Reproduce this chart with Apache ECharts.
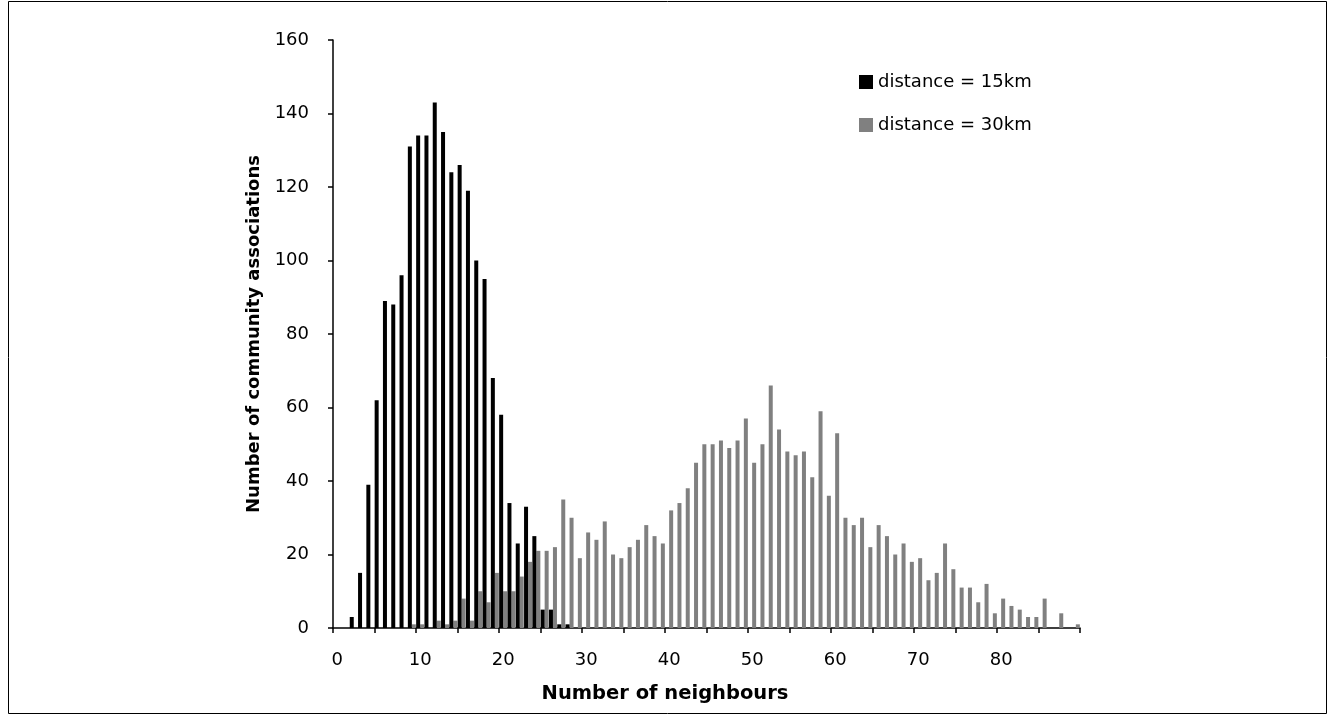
<!DOCTYPE html>
<html>
<head>
<meta charset="utf-8">
<script src="https://cdn.jsdelivr.net/npm/echarts@6.0.0/dist/echarts.min.js"></script>
<style>
  html, body { margin: 0; padding: 0; background: #fff; }
  #chart { width: 1330px; height: 719px; }
</style>
</head>
<body>
<div id="chart"></div>
<script>
// Number of neighbours (categories 0..89)
var neighbours = [
  0,1,2,3,4,5,6,7,8,9,10,11,12,13,14,15,16,17,18,19,
  20,21,22,23,24,25,26,27,28,29,30,31,32,33,34,35,36,37,38,39,
  40,41,42,43,44,45,46,47,48,49,50,51,52,53,54,55,56,57,58,59,
  60,61,62,63,64,65,66,67,68,69,70,71,72,73,74,75,76,77,78,79,
  80,81,82,83,84,85,86,87,88,89
];
// distance = 15km
var dist15 = [
  0,0,3,15,39,62,89,88,96,131,134,134,143,135,124,126,119,100,95,68,
  58,34,23,33,25,5,5,1,1,0,0,0,0,0,0,0,0,0,0,0,
  0,0,0,0,0,0,0,0,0,0,0,0,0,0,0,0,0,0,0,0,
  0,0,0,0,0,0,0,0,0,0,0,0,0,0,0,0,0,0,0,0,
  0,0,0,0,0,0,0,0,0,0
];
// distance = 30km
var dist30 = [
  0,0,0,0,0,0,0,0,0,1,1,0,2,1,2,8,2,10,7,15,
  10,10,14,18,21,21,22,35,30,19,26,24,29,20,19,22,24,28,25,23,
  32,34,38,45,50,50,51,49,51,57,45,50,66,54,48,47,48,41,59,36,
  53,30,28,30,22,28,25,20,23,18,19,13,15,23,16,11,11,7,12,4,
  8,6,5,3,3,8,0,4,0,1
];
var seriesNames = ['distance = 15km', 'distance = 30km'];
var yTicks = { min: 0, max: 160, interval: 20 };

var FONT = 'DejaVu Sans';
var chart = echarts.init(document.getElementById('chart'), null, { renderer: 'canvas' });
chart.setOption({
  animation: false,
  backgroundColor: '#ffffff',
  graphic: [{
    type: 'rect',
    shape: { x: 8.5, y: 1.5, width: 1318, height: 712 },
    style: { fill: 'none', stroke: '#000', lineWidth: 1 },
    silent: true
  }],
  grid: { left: 333, right: 250, top: 40, bottom: 91, containLabel: false },
  legend: {
    data: seriesNames,
    orient: 'vertical',
    left: 854,
    top: 68,
    itemWidth: 14,
    itemHeight: 14,
    itemGap: 25,
    icon: 'rect',
    textStyle: { fontFamily: FONT, fontSize: 18, color: '#000' }
  },
  xAxis: {
    type: 'category',
    data: neighbours,
    boundaryGap: true,
    name: 'Number of neighbours',
    nameLocation: 'middle',
    nameGap: 56,
    nameTextStyle: { fontFamily: FONT, fontSize: 19.5, fontWeight: 'bold', color: '#000', padding: [0, 83, 0, 0] },
    axisLine: { lineStyle: { color: '#000', width: 1.5 } },
    axisTick: { show: true, interval: 4, length: 5, inside: false, lineStyle: { color: '#000', width: 1.5 } },
    axisLabel: { interval: 9, margin: 23, fontFamily: FONT, fontSize: 18, color: '#000' },
    splitLine: { show: false }
  },
  yAxis: {
    type: 'value',
    min: yTicks.min,
    max: yTicks.max,
    interval: yTicks.interval,
    name: 'Number of community associations',
    nameLocation: 'middle',
    nameGap: 68,
    nameTextStyle: { fontFamily: FONT, fontSize: 18, fontWeight: 'bold', color: '#000' },
    axisLine: { show: true, lineStyle: { color: '#000', width: 1.5 } },
    axisTick: { show: true, length: 5, lineStyle: { color: '#000', width: 1.5 } },
    axisLabel: { margin: 24, fontFamily: FONT, fontSize: 18, color: '#000' },
    splitLine: { show: false }
  },
  series: [
    {
      name: seriesNames[0],
      type: 'bar',
      data: dist15,
      barWidth: 4,
      barGap: '0%',
      z: 3,
      itemStyle: { color: '#000000' }
    },
    {
      name: seriesNames[1],
      type: 'bar',
      data: dist30,
      barWidth: 4,
      barGap: '0%',
      z: 2,
      itemStyle: { color: '#808080' }
    }
  ]
});
</script>
</body>
</html>
